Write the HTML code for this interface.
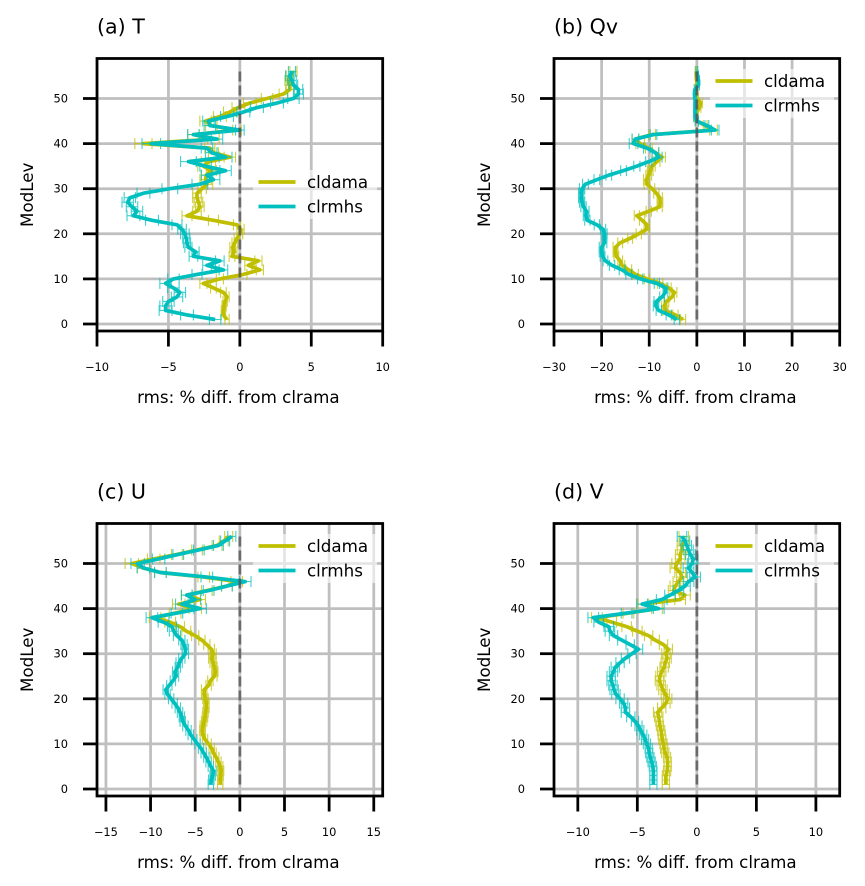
<!DOCTYPE html>
<html lang="en">
<head>
<meta charset="utf-8">
<title>RMS percent difference from clrama by model level</title>
<style>
html,body{margin:0;padding:0;background:#fff;}
body{width:865px;height:886px;overflow:hidden;}
svg{display:block;}
text{font-family:"DejaVu Sans","Liberation Sans",sans-serif;fill:#000;}
</style>
</head>
<body>
<svg id="figure" xmlns="http://www.w3.org/2000/svg" width="865" height="886" viewBox="0 0 865 886"></svg>
<script>
var levels = [1,2,3,4,5,6,7,8,9,10,
  11,12,13,14,15,16,17,18,19,20,
  21,22,23,24,25,26,27,28,29,30,
  31,32,33,34,35,36,37,38,39,40,
  41,42,43,44,45,46,47,48,49,50,
  51,52,53,54,55,56];
var yTicks = [0,10,20,30,40,50];
var seriesNames = ['cldama','clrmhs'];
var panelTitles = ['(a) T','(b) Qv','(c) U','(d) V'];
var xAxisTitle = 'rms: % diff. from clrama';
var yAxisTitle = 'ModLev';

var ticksT = [-10,-5,0,5,10];
var ticksQv = [-30,-20,-10,0,10,20,30];
var ticksU = [-15,-10,-5,0,5,10,15];
var ticksV = [-10,-5,0,5,10];

var limitT = 10;
var limitQv = 30;
var limitU = 16;
var limitV = 12;

var cldamaT = [-0.9,-1.15,-1.15,-1.1,-1.03,-0.9,-1.15,-1.85,-2.55,-1.4,
  0.25,1.4,0.6,1.3,-0.55,-0.4,-0.5,-0.35,-0.2,0,
  0.05,-0.2,-1.85,-3.7,-3,-2.8,-2.9,-3,-3,-2.65,
  -2.3,-2.4,-2.35,-2,-2.55,-2.2,-0.7,-1.85,-2.1,-6.75,
  -1.85,-3.25,-0.2,-2,-2.4,-1.4,-0.7,-0.1,0.7,1.9,
  3.05,3.5,3.5,3.4,3.5,3.75];
var clrmhsT = [-1.73,-3.7,-5.2,-5.2,-5,-4.4,-4.2,-4.65,-5.2,-4.65,
  -3,-1.15,-2.3,-1.4,-3.25,-3.1,-3.6,-3.7,-3.75,-3.85,
  -4.05,-4.4,-6.15,-7.45,-7.2,-7.55,-7.85,-7.7,-6.75,-4.9,
  -2.8,-1.85,-2.3,-1,-2.4,-3.6,-1,-2,-2.3,-6.2,
  -1.6,-3.25,0,-2.1,-2.2,-0.9,0.25,1.2,2.6,3.75,
  4.1,4.1,3.75,3.65,3.5,3.65];
var errCldamaT = [0.15,0.15,0.15,0.15,0.15,0.15,0.2,0.2,0.25,0.25,
  0.25,0.25,0.25,0.25,0.2,0.2,0.2,0.2,0.2,0.2,
  0.25,0.25,0.35,0.35,0.3,0.3,0.3,0.3,0.3,0.3,
  0.4,0.4,0.35,0.35,0.4,0.5,0.4,0.35,0.35,0.6,
  0.4,0.4,0.3,0.4,0.4,0.45,0.45,0.45,0.45,0.4,
  0.3,0.3,0.25,0.25,0.25,0.25];
var errClrmhsT = [0.4,0.45,0.45,0.4,0.4,0.4,0.4,0.4,0.4,0.4,
  0.35,0.3,0.3,0.3,0.3,0.25,0.25,0.25,0.25,0.3,
  0.3,0.35,0.45,0.45,0.4,0.4,0.4,0.4,0.45,0.55,
  0.55,0.45,0.4,0.4,0.4,0.55,0.45,0.4,0.4,0.65,
  0.4,0.4,0.3,0.4,0.4,0.45,0.45,0.45,0.45,0.4,
  0.35,0.3,0.3,0.3,0.3,0.25];

var cldamaQv = [-2.9,-4.5,-6.6,-6.85,-6.4,-5.2,-4.7,-5.9,-7.7,-10.5,
  -12.9,-14.3,-15.7,-16.1,-16.9,-17.1,-17.1,-16.1,-14,-12.2,
  -10.5,-10.5,-11.5,-12.6,-10.1,-7.8,-7.7,-7.8,-8.5,-9.4,
  -10.5,-10.6,-10.1,-9.8,-9.4,-8.4,-7.3,-8.7,-10.1,-11.9,
  -12.9,-9.4,3.5,1.75,0,-0.35,0,0.55,0.85,0,
  0,-0.15,0,0,-0.15,-0.15];
var clrmhsQv = [-4.2,-5.9,-8,-8.6,-8.5,-7.3,-6.6,-6.6,-8.4,-11.9,
  -14.3,-15.7,-17.8,-19.2,-19.8,-20,-20,-19.4,-19.4,-19.4,
  -19.7,-21,-23,-23.3,-23.2,-23.8,-24.1,-24.3,-24.3,-24.1,
  -23.4,-21,-18.5,-15.4,-12.6,-10.1,-8,-8.7,-10.5,-13.3,
  -12.9,-9.1,3.85,2.1,0,-0.35,-0.35,-0.35,-0.35,-0.35,
  -0.5,-0.35,0.35,0.35,0.14,0];
var errQv = [0.55,0.55,0.55,0.55,0.5,0.5,0.5,0.5,0.55,0.55,
  0.6,0.6,0.55,0.5,0.5,0.5,0.5,0.5,0.5,0.55,
  0.55,0.55,0.55,0.55,0.55,0.55,0.55,0.55,0.55,0.55,
  0.6,0.6,0.6,0.6,0.65,0.65,0.7,0.7,0.7,0.9,
  0.7,0.7,0.8,0.4,0.35,0.3,0.3,0.3,0.3,0.25,
  0.25,0.2,0.2,0.2,0.2,0.2];

var cldamaU = [-2.2,-2.2,-2.15,-2.1,-2.2,-2.4,-2.65,-2.95,-3.15,-3.5,
  -3.9,-4.15,-4.2,-4.15,-4,-3.9,-3.85,-3.75,-3.75,-3.85,
  -4,-4,-3.5,-3.3,-2.85,-2.75,-2.85,-3,-3.15,-3,
  -3.2,-3.7,-4.25,-5,-6,-6.7,-7.8,-9.5,-7.25,-5,
  -6.85,-4.45,-5.95,-3.7,-1.45,-0.35,-4.05,-8.9,-10.8,-12.1,
  -9.65,-7.05,-4.8,-2.55,-1.8,-1.25];
var clrmhsU = [-3.25,-3.2,-3.05,-2.95,-3.25,-3.5,-3.75,-4.05,-4.35,-4.75,
  -5.1,-5.5,-5.75,-6.1,-6.4,-6.5,-6.7,-6.95,-7.3,-7.7,
  -8.1,-8.3,-7.9,-7.5,-7.15,-7.25,-6.95,-6.8,-6.5,-6.1,
  -6.1,-6.25,-6.5,-7.05,-7.4,-7.6,-8.55,-9.85,-7.05,-4.45,
  -6.5,-5,-5.95,-3.5,-1.45,0.6,-3.7,-8.9,-10.8,-11.45,
  -9.1,-6.9,-4.6,-2.4,-1.65,-0.9];
var errU = [0.3,0.3,0.3,0.3,0.3,0.3,0.3,0.3,0.3,0.3,
  0.3,0.3,0.3,0.3,0.3,0.3,0.3,0.3,0.3,0.3,
  0.3,0.3,0.3,0.3,0.3,0.3,0.3,0.35,0.35,0.35,
  0.35,0.35,0.35,0.4,0.5,0.5,0.6,0.65,0.65,0.7,
  0.7,0.6,0.6,0.6,0.6,0.65,0.65,0.65,0.7,0.75,
  0.7,0.6,0.6,0.55,0.5,0.45];

var cldamaV = [-2.6,-2.6,-2.6,-2.5,-2.45,-2.45,-2.5,-2.65,-2.75,-2.8,
  -2.9,-2.95,-3,-3.1,-3.15,-3.2,-3.3,-2.95,-2.6,-2.45,
  -2.65,-2.85,-3,-3.15,-3.1,-2.95,-2.75,-2.65,-2.5,-2.6,
  -2.4,-2.8,-3.5,-4.05,-5,-5.9,-7.15,-8.4,-5.75,-3.35,
  -4.5,-1.4,-1,-1.95,-1.8,-1.55,-1.25,-1.4,-1.8,-1.7,
  -1.4,-1.4,-1.25,-1.25,-1.1,-1.1];
var clrmhsV = [-3.65,-3.65,-3.65,-3.65,-3.7,-3.8,-3.9,-4,-4.05,-4.2,
  -4.35,-4.5,-4.75,-4.9,-5.2,-5.55,-6,-6,-6.15,-6.45,
  -6.8,-6.95,-7.05,-7.2,-7.2,-7,-6.85,-6.45,-6,-5.45,
  -4.9,-5.6,-6.3,-7,-7.3,-7.4,-8.25,-8.7,-5.9,-3.2,
  -4.6,-2.95,-2.25,-1.55,-1,-0.7,-0.15,-0.4,-0.7,-0.4,
  -0.3,-0.55,-0.7,-0.85,-1,-1.25];
var errV = [0.3,0.3,0.3,0.3,0.3,0.3,0.3,0.3,0.3,0.3,
  0.3,0.3,0.3,0.3,0.3,0.35,0.35,0.35,0.35,0.35,
  0.35,0.35,0.35,0.35,0.35,0.35,0.35,0.35,0.35,0.35,
  0.35,0.35,0.35,0.35,0.4,0.4,0.4,0.45,0.45,0.45,
  0.45,0.45,0.45,0.45,0.45,0.45,0.45,0.45,0.45,0.4,
  0.4,0.4,0.4,0.4,0.4,0.4];

var panelTicks = [ticksT,ticksQv,ticksU,ticksV];
var panelLimits = [limitT,limitQv,limitU,limitV];
var panelCldama = [cldamaT,cldamaQv,cldamaU,cldamaV];
var panelClrmhs = [clrmhsT,clrmhsQv,clrmhsU,clrmhsV];
var panelErrCldama = [errCldamaT,errQv,errU,errV];
var panelErrClrmhs = [errClrmhsT,errQv,errU,errV];

var NS = 'http://www.w3.org/2000/svg';
var figure = document.getElementById('figure');
var PT = 2.77;
var seriesColors = ['#bfbf00','#00bfbf'];

function make(tag, attrs, parent, txt) {
  var n = document.createElementNS(NS, tag);
  for (var k in attrs) n.setAttribute(k, attrs[k]);
  if (txt !== undefined) n.textContent = txt;
  parent.appendChild(n);
  return n;
}

function layout(i) {
  var left = i % 2 === 0 ? 97 : 554;
  var top = i < 2 ? 58.5 : 523.5;
  return {left: left, right: left + 285.7, top: top, bottom: top + 272.5, zeroY: top + 265.5};
}
function xScale(i, v) {
  var L = layout(i), lim = panelLimits[i];
  return L.left + (v + lim) / (2 * lim) * (L.right - L.left);
}
function yScale(i, lev) {
  return layout(i).zeroY - lev * 4.51;
}

function drawSeries(g, i, s, values, errs) {
  var color = seriesColors[s];
  var errGroup = make('g', {stroke: color, 'stroke-width': 1.1, opacity: 0.75, fill: 'none'}, g);
  
  
  var pts = [];
  for (var k = 0; k < levels.length; k++) {
    var y = yScale(i, levels[k]);
    var x0 = xScale(i, values[k] - errs[k]);
    var x1 = xScale(i, values[k] + errs[k]);
    make('line', {x1: x0, x2: x1, y1: y, y2: y}, errGroup);
    make('line', {x1: x0, x2: x0, y1: y - 5.5, y2: y + 5.5}, errGroup);
    make('line', {x1: x1, x2: x1, y1: y - 5.5, y2: y + 5.5}, errGroup);
    pts.push(xScale(i, values[k]).toFixed(2) + ',' + y.toFixed(2));
  }
  var line = make('polyline', {points: pts.join(' '), fill: 'none', stroke: color, 'stroke-width': 3.7, 'stroke-linejoin': 'round'}, g);
  
  
}

function drawPanel(i) {
  var L = layout(i);
  var g = make('g', {}, figure);
  
  

  var clip = make('clipPath', {id: 'clip' + i}, g);
  make('rect', {x: L.left, y: L.top, width: L.right - L.left, height: L.bottom - L.top}, clip);

  var grid = make('g', {stroke: '#bfbfbf', 'stroke-width': PT, 'clip-path': 'url(#clip' + i + ')'}, g);
  
  
  panelTicks[i].forEach(function (t) {
    make('line', {x1: xScale(i, t), x2: xScale(i, t), y1: L.top, y2: L.bottom}, grid);
  });
  yTicks.forEach(function (t) {
    make('line', {x1: L.left, x2: L.right, y1: yScale(i, t), y2: yScale(i, t)}, grid);
  });

  drawSeries(g, i, 0, panelCldama[i], panelErrCldama[i]);
  drawSeries(g, i, 1, panelClrmhs[i], panelErrClrmhs[i]);

  var zero = make('line', {x1: xScale(i, 0), x2: xScale(i, 0), y1: yScale(i, levels[levels.length - 1]), y2: yScale(i, levels[0]), stroke: '#4d4d4d', 'stroke-opacity': 0.75, 'stroke-width': 2.77, 'stroke-dasharray': '10 4'}, g);
  
  

  // legend
  var legY = i === 0 ? 182 : L.top + 22.5;
  var legX = L.left + 161.5;
  var legend = make('g', {}, g);
  
  
  make('rect', {x: L.left + 156, y: legY - 12, width: 124, height: 49, fill: '#fff', 'fill-opacity': 0.6}, legend);
  seriesNames.forEach(function (name, s) {
    var y = legY + s * 24.5;
    var entry = make('g', {}, legend);
    
    
    make('line', {x1: legX, x2: legX + 37, y1: y, y2: y, stroke: seriesColors[s], 'stroke-width': 3.7}, entry);
    make('text', {x: legX + 48.5, y: y + 6, 'font-size': 16.7}, entry, name);
  });

  // spines
  var spines = make('rect', {x: L.left, y: L.top, width: L.right - L.left, height: L.bottom - L.top, fill: 'none', stroke: '#000', 'stroke-width': PT}, g);
  
  

  // x ticks
  var xAxis = make('g', {}, g);
  
  
  panelTicks[i].forEach(function (t) {
    var x = xScale(i, t);
    make('line', {x1: x, x2: x, y1: L.bottom, y2: L.bottom + 15.5, stroke: '#000', 'stroke-width': PT}, xAxis);
    var lab = t < 0 ? '\u2212' + Math.abs(t) : String(t);
    make('text', {x: x, y: L.bottom + 40, 'font-size': 11.4, 'text-anchor': 'middle'}, xAxis, lab);
  });
  var xt = make('text', {x: (L.left + L.right) / 2 - 1.5, y: L.bottom + 72, 'font-size': 16.7, 'text-anchor': 'middle'}, g, xAxisTitle);
  
  

  // y ticks
  var yAxis = make('g', {}, g);
  
  
  yTicks.forEach(function (t) {
    var y = yScale(i, t);
    make('line', {x1: L.left - 14, x2: L.left, y1: y, y2: y, stroke: '#000', 'stroke-width': PT}, yAxis);
    make('text', {x: L.left - 29, y: y + 4, 'font-size': 11.4, 'text-anchor': 'end'}, yAxis, String(t));
  });
  var cy = (L.top + L.bottom) / 2;
  var yx = L.left - 64;
  var yt = make('text', {x: yx, y: cy, 'font-size': 16.7, 'text-anchor': 'middle', transform: 'rotate(-90 ' + yx + ' ' + cy + ')'}, g, yAxisTitle);
  
  

  var title = make('text', {x: L.left, y: L.top - 25, 'font-size': 20.6}, g, panelTitles[i]);
  
  
}

for (var p = 0; p < 4; p++) drawPanel(p);
</script>
</body>
</html>
